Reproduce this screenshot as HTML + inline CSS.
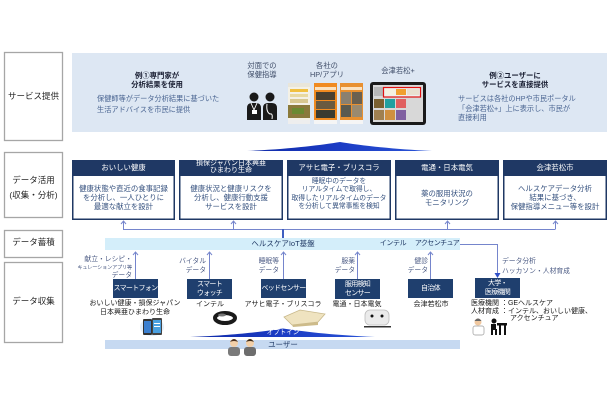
<!DOCTYPE html>
<html><head><meta charset="utf-8">
<style>
html,body{margin:0;padding:0;background:#fff;}
body{width:610px;height:400px;position:relative;overflow:hidden;font-family:"Liberation Sans","Noto Sans CJK JP",sans-serif;}
.t{position:absolute;white-space:nowrap;text-align:center;}
.l{text-align:left;}
.r{text-align:right;}
.lab{font-size:8.5px;color:#262626;}
.sv{font-size:7.2px;color:#4a6592;}
.svh{font-size:7.4px;color:#1a1f33;font-weight:bold;}
.cap{font-size:7.3px;color:#3f4d68;}
.hd{font-size:7.4px;color:#fff;}
.bd{font-size:7.4px;color:#34507e;}
.dv{font-size:7px;color:#fff;letter-spacing:-0.7px;}
.ar{font-size:6.8px;color:#4d5c85;}
.co{font-size:7px;color:#1a1a1a;}
.pf{font-size:7.5px;color:#1f3864;}
</style></head>
<body>
<svg width="610" height="400" style="position:absolute;left:0;top:0">
  <defs>
    <linearGradient id="wg" x1="0" x2="1" y1="0" y2="0">
      <stop offset="0" stop-color="#0f2aa8"/>
      <stop offset="0.5" stop-color="#1c3cc4"/>
      <stop offset="1" stop-color="#2a55d8"/>
    </linearGradient>
  </defs>
  <!-- left label boxes -->
  <rect x="4.5" y="52.5" width="58" height="88" fill="#fff" stroke="#a6a6a6" stroke-width="1.3"/>
  <rect x="4.5" y="152.5" width="58" height="65" fill="#fff" stroke="#a6a6a6" stroke-width="1.3"/>
  <rect x="4.5" y="230.5" width="58" height="27" fill="#fff" stroke="#a6a6a6" stroke-width="1.3"/>
  <rect x="4.5" y="262.5" width="58" height="80" fill="#fff" stroke="#a6a6a6" stroke-width="1.3"/>

  <!-- service panel -->
  <rect x="72" y="53" width="535" height="79" fill="#dde7f3"/>

  <!-- people icon (face-to-face guidance) -->
  <g fill="#1a1a1a">
    <circle cx="254" cy="97" r="4.5"/>
    <path d="M247 120 L247 108 Q247 103 252 103 L256 103 Q261 103 261 108 L261 120 Z"/>
    <circle cx="270" cy="97" r="4.5"/>
    <path d="M263 120 L263 108 Q263 103 268 103 L272 103 Q277 103 277 108 L277 120 Z"/>
  </g>
  <polyline points="251,103 254,110 257,103" fill="none" stroke="#fff" stroke-width="0.9"/>
  <rect x="252" y="110" width="5" height="4" fill="#fff"/>
  <path d="M267 104 Q266 112 270 114 Q273 113 272 119" fill="none" stroke="#fff" stroke-width="1"/>

  <!-- app screenshots -->
  <rect x="288" y="83" width="22" height="41" fill="#f4f1e6"/>
  <rect x="288" y="83" width="22" height="4" fill="#e9e6da"/>
  <rect x="290" y="89" width="18" height="3" fill="#f1c040"/>
  <rect x="290" y="94" width="18" height="3" fill="#e8d9a0"/>
  <rect x="290" y="99" width="18" height="4" fill="#d8c890"/>
  <rect x="288" y="105" width="22" height="13" fill="#8a7a3a"/>
  <rect x="292" y="108" width="12" height="6" fill="#6a8a30"/>
  <rect x="288" y="120" width="22" height="4" fill="#eee"/>

  <rect x="314" y="83" width="23" height="41" fill="#f08a20"/>
  <rect x="315" y="87" width="21" height="3" fill="#fbe2c0"/>
  <rect x="316" y="92" width="19" height="8" fill="#4a4030"/>
  <rect x="316" y="101" width="19" height="8" fill="#6a5a40"/>
  <rect x="316" y="110" width="19" height="8" fill="#3a3a30"/>
  <rect x="314" y="120" width="23" height="4" fill="#f5f5f5"/>

  <rect x="340" y="83" width="23" height="41" fill="#e89030"/>
  <rect x="341" y="87" width="21" height="3" fill="#fbe2c0"/>
  <rect x="341" y="92" width="10" height="12" fill="#8a8070"/>
  <rect x="352" y="92" width="10" height="12" fill="#6a6050"/>
  <rect x="341" y="105" width="10" height="12" fill="#5a5a50"/>
  <rect x="352" y="105" width="10" height="12" fill="#9a8a70"/>
  <rect x="340" y="120" width="23" height="4" fill="#f5f5f5"/>

  <!-- tablet -->
  <rect x="370" y="82" width="56" height="43" rx="3" fill="#1a1a1a"/>
  <rect x="373" y="85" width="50" height="37" fill="#d8d8d8"/>
  <rect x="374" y="87" width="9" height="9" fill="#b8b8b8"/>
  <rect x="383.5" y="87.5" width="37" height="9.5" fill="#eee" stroke="#e01010" stroke-width="1.2"/>
  <rect x="385" y="89" width="10" height="6" fill="#f5f0e0"/>
  <rect x="396" y="89" width="10" height="6" fill="#f0a030"/>
  <rect x="407" y="89" width="12" height="6" fill="#e8e0d0"/>
  <rect x="374" y="99" width="10" height="9" fill="#7a6030"/>
  <rect x="385" y="99" width="10" height="9" fill="#20a0a0"/>
  <rect x="396" y="99" width="10" height="9" fill="#e06060"/>
  <rect x="374" y="110" width="10" height="10" fill="#a08050"/>
  <rect x="385" y="110" width="10" height="10" fill="#d09040"/>
  <rect x="396" y="110" width="10" height="10" fill="#8060a0"/>

  <!-- top wedge -->
  <path d="M247 151 C290 149 322 145 340 142 C358 145 390 149 432 151 Z" fill="url(#wg)"/>

  <!-- data usage boxes -->
  <g stroke="#1f3864" stroke-width="1.5" fill="#fff">
    <rect x="72.75" y="160.75" width="101.5" height="58.5"/>
    <rect x="179.75" y="160.75" width="102.5" height="58.5"/>
    <rect x="287.75" y="160.75" width="102.5" height="58.5"/>
    <rect x="395.75" y="160.75" width="102.5" height="58.5"/>
    <rect x="503.75" y="160.75" width="102.5" height="58.5"/>
  </g>
  <g fill="#1f3864">
    <rect x="72" y="160" width="103" height="16"/>
    <rect x="179" y="160" width="104" height="16"/>
    <rect x="287" y="160" width="104" height="16"/>
    <rect x="395" y="160" width="104" height="16"/>
    <rect x="503" y="160" width="104" height="16"/>
  </g>

  <!-- connectors from platform to boxes -->
  <g stroke="#7585cc" stroke-width="1" fill="none">
    <line x1="123" y1="229.5" x2="555" y2="229.5"/>
    <line x1="123.5" y1="229.5" x2="123.5" y2="221"/>
    <line x1="233.5" y1="229.5" x2="233.5" y2="221"/>
    <line x1="447.5" y1="229.5" x2="447.5" y2="221"/>
    <line x1="555.5" y1="229.5" x2="555.5" y2="221"/>
    <polyline points="121,224 123.5,221 126,224"/>
    <polyline points="231,224 233.5,221 236,224"/>
    <polyline points="445,224 447.5,221 450,224"/>
    <polyline points="553,224 555.5,221 558,224"/>
  </g>
  <line x1="283" y1="229" x2="283" y2="238" stroke="#3f5fc0" stroke-width="2"/>

  <!-- platform bar -->
  <rect x="105" y="238" width="355" height="12" fill="#d4eefa"/>

  <!-- arrows from devices up to platform -->
  <g stroke="#7585cc" stroke-width="1" fill="none">
    <line x1="135.5" y1="279" x2="135.5" y2="252"/>
    <line x1="209.5" y1="279" x2="209.5" y2="252"/>
    <line x1="283.5" y1="279" x2="283.5" y2="252"/>
    <line x1="357.5" y1="279" x2="357.5" y2="252"/>
    <line x1="430.5" y1="279" x2="430.5" y2="252"/>
    <polyline points="133,255 135.5,252 138,255"/>
    <polyline points="207,255 209.5,252 212,255"/>
    <polyline points="281,255 283.5,252 286,255"/>
    <polyline points="355,255 357.5,252 360,255"/>
    <polyline points="428,255 430.5,252 433,255"/>
    <polyline points="460,244.5 497.5,244.5 497.5,274"/>
  </g>
  <path d="M494.5 273 L500.5 273 L497.5 278 Z" fill="#3050c8"/>

  <!-- device boxes -->
  <g fill="#1f3f6e">
    <rect x="113" y="279" width="45" height="19"/>
    <rect x="187" y="279" width="45" height="20"/>
    <rect x="261" y="279" width="45" height="19"/>
    <rect x="335" y="279" width="45" height="20"/>
    <rect x="408" y="279" width="45" height="19"/>
    <rect x="475" y="278" width="45" height="20"/>
  </g>

  <!-- smartphone image -->
  <ellipse cx="152" cy="327" rx="12" ry="9" fill="#e3effb"/>
  <rect x="143" y="319" width="9" height="16" rx="1" fill="#333"/>
  <rect x="144" y="321" width="7" height="12" fill="#3a7fd0"/>
  <rect x="152" y="318" width="10" height="17" rx="1" fill="#444"/>
  <rect x="153" y="320" width="8" height="13" fill="#4aa0e0"/>
  <rect x="154" y="323" width="6" height="1" fill="#fff"/>
  <rect x="154" y="326" width="6" height="1" fill="#fff"/>

  <!-- watch -->
  <ellipse cx="225" cy="318" rx="10" ry="5" fill="none" stroke="#1a1a1a" stroke-width="4"/>
  <ellipse cx="222" cy="315" rx="4" ry="1.5" fill="#777"/>

  <!-- bed -->
  <path d="M284 317 L300 310 L325 314 L318 322 L292 325 Z" fill="#efe3c0" stroke="#c8b88a" stroke-width="0.8"/>
  <path d="M292 325 L318 322 L318 325 L293 327 Z" fill="#cdbb8a"/>

  <!-- medication sensor -->
  <rect x="365" y="310" width="24" height="15" rx="5" fill="#ebebeb" stroke="#bdbdbd" stroke-width="0.8"/>
  <circle cx="372" cy="316" r="1.5" fill="#111"/>
  <circle cx="382" cy="316" r="1.5" fill="#111"/>
  <rect x="364" y="326" width="27" height="1.5" fill="#333"/>

  <!-- doctor and desk -->
  <circle cx="478" cy="322" r="3.5" fill="#f0c8a0"/>
  <path d="M474.5 321 Q478 316 481.5 321 Z" fill="#666"/>
  <rect x="473" y="326" width="11" height="9" rx="2" fill="#fff" stroke="#999" stroke-width="0.7"/>
  <circle cx="494" cy="321" r="2.5" fill="#111"/>
  <rect x="491" y="324" width="5" height="6" fill="#111"/>
  <rect x="491" y="329" width="2" height="6" fill="#111"/>
  <rect x="495" y="329" width="2" height="6" fill="#111"/>
  <rect x="497" y="323" width="10" height="2.5" fill="#111"/>
  <rect x="499" y="325" width="2" height="10" fill="#111"/>
  <rect x="504" y="325" width="2" height="10" fill="#111"/>

  <!-- opt-in wedge -->
  <path d="M190 337 C240 335 266 331 283 328.5 C300 331 330 335 375 337 Z" fill="url(#wg)"/>

  <!-- user bar -->
  <rect x="105" y="340" width="355" height="9" fill="#c6d9f1"/>

  <!-- user people -->
  <g>
    <rect x="228" y="347" width="12" height="9" rx="3" fill="#7a7a7a"/>
    <circle cx="234" cy="343" r="4" fill="#f2cfa8"/>
    <path d="M230 342 Q234 336 238 342 Q234 340 230 342 Z" fill="#4a3020"/>
    <rect x="244" y="347" width="12" height="9" rx="3" fill="#6d6d6d"/>
    <circle cx="250" cy="343" r="4" fill="#f2cfa8"/>
    <path d="M246 342 Q250 336 254 342 Q250 340 246 342 Z" fill="#3a2a1a"/>
  </g>
</svg>

<!-- left labels -->
<div class="t lab" style="left:4px;width:59px;top:91px;line-height:10px;">サービス提供</div>
<div class="t lab" style="left:2px;width:63px;top:173px;line-height:14.5px;">データ活用<br>(収集・分析)</div>
<div class="t lab" style="left:4px;width:59px;top:237px;line-height:10px;">データ蓄積</div>
<div class="t lab" style="left:4px;width:59px;top:296px;line-height:10px;">データ収集</div>

<!-- service panel text -->
<div class="t svh" style="left:97px;width:120px;top:70.5px;line-height:9px;">例①専門家が<br>分析結果を使用</div>
<div class="t sv l" style="left:97px;top:93px;line-height:11px;">保健師等がデータ分析結果に基づいた<br>生活アドバイスを市民に提供</div>
<div class="t cap" style="left:232px;width:60px;top:60.5px;line-height:9px;">対面での<br>保健指導</div>
<div class="t cap" style="left:297px;width:60px;top:60.5px;line-height:9px;">各社の<br>HP/アプリ</div>
<div class="t cap" style="left:368px;width:60px;top:65.5px;line-height:9px;">会津若松+</div>
<div class="t svh" style="left:455px;width:120px;top:70.5px;line-height:9px;">例②ユーザーに<br>サービスを直接提供</div>
<div class="t sv l" style="left:458px;top:94px;line-height:9.5px;">サービスは各社のHPや市民ポータル<br>「会津若松+」上に表示し、市民が<br>直接利用</div>

<!-- box headers -->
<div class="t hd" style="left:72px;width:103px;top:163px;line-height:10px;">おいしい健康</div>
<div class="t hd" style="left:179px;width:104px;top:159.5px;line-height:7.5px;font-size:7px;">損保ジャパン日本興亜<br>ひまわり生命</div>
<div class="t hd" style="left:287px;width:104px;top:163px;line-height:10px;">アサヒ電子・ブリスコラ</div>
<div class="t hd" style="left:395px;width:104px;top:163px;line-height:10px;">電通・日本電気</div>
<div class="t hd" style="left:503px;width:104px;top:163px;line-height:10px;">会津若松市</div>

<!-- box bodies -->
<div class="t bd" style="left:72px;width:103px;top:183.5px;line-height:9px;">健康状態や直近の食事記録<br>を分析し、一人ひとりに<br>最適な献立を設計</div>
<div class="t bd" style="left:179px;width:104px;top:183.5px;line-height:9px;">健康状況と健康リスクを<br>分析し、健康行動支援<br>サービスを設計</div>
<div class="t bd" style="left:287px;width:104px;top:178px;line-height:8.3px;font-size:6.8px;">睡眠中のデータを<br>リアルタイムで取得し、<br>取得したリアルタイムのデータ<br>を分析して異常事態を検知</div>
<div class="t bd" style="left:395px;width:104px;top:188.5px;line-height:9px;">薬の服用状況の<br>モニタリング</div>
<div class="t bd" style="left:503px;width:104px;top:183.5px;line-height:9px;">ヘルスケアデータ分析<br>結果に基づき、<br>保健指導メニュー等を設計</div>

<!-- platform text -->
<div class="t pf" style="left:223px;width:120px;top:239px;line-height:10px;">ヘルスケアIoT基盤</div>
<div class="t pf" style="left:373px;width:40px;top:239px;line-height:10px;font-size:7px;letter-spacing:-0.4px;">インテル</div>
<div class="t pf" style="left:407px;width:60px;top:239px;line-height:10px;font-size:7px;letter-spacing:-0.6px;">アクセンチュア</div>

<!-- arrow labels -->
<div class="t ar r" style="left:60px;width:72px;top:256px;line-height:8px;">献立・レシピ・<br><span style="font-size:5.2px;letter-spacing:-0.2px;">キュレーションアプリ等</span><br>データ</div>
<div class="t ar r" style="left:166px;width:40px;top:256.5px;line-height:9px;">バイタル<br>データ</div>
<div class="t ar r" style="left:240px;width:39px;top:256.5px;line-height:9px;">睡眠等<br>データ</div>
<div class="t ar r" style="left:316px;width:39px;top:256.5px;line-height:9px;">服薬<br>データ</div>
<div class="t ar r" style="left:389px;width:39px;top:256.5px;line-height:9px;">健診<br>データ</div>
<div class="t ar l" style="left:502px;top:257px;line-height:10px;">データ分析<br>ハッカソン・人材育成</div>

<!-- device labels -->
<div class="t dv" style="left:113px;width:45px;top:283.5px;line-height:10px;">スマートフォン</div>
<div class="t dv" style="left:187px;width:45px;top:280px;line-height:9px;">スマート<br>ウォッチ</div>
<div class="t dv" style="left:261px;width:45px;top:283.5px;line-height:10px;">ベッドセンサー</div>
<div class="t dv" style="left:335px;width:45px;top:280px;line-height:9px;">服用検知<br>センサー</div>
<div class="t dv" style="left:408px;width:45px;top:283.5px;line-height:10px;">自治体</div>
<div class="t dv" style="left:475px;width:45px;top:279px;line-height:9px;">大学・<br>医療機関</div>

<!-- company names -->
<div class="t co" style="left:85px;width:100px;top:299px;line-height:9px;">おいしい健康・損保ジャパン<br>日本興亜ひまわり生命</div>
<div class="t co" style="left:180px;width:60px;top:299.5px;line-height:9px;">インテル</div>
<div class="t co" style="left:233px;width:100px;top:299.5px;line-height:9px;">アサヒ電子・ブリスコラ</div>
<div class="t co" style="left:317px;width:80px;top:299.5px;line-height:9px;">電通・日本電気</div>
<div class="t co" style="left:396px;width:70px;top:299.5px;line-height:9px;">会津若松市</div>
<div class="t co l" style="left:471px;top:300px;line-height:7.5px;">医療機関 ：GEヘルスケア<br>人材育成 ：インテル、おいしい健康、<br><span style="padding-left:39px;">アクセンチュア</span></div>

<!-- opt-in / user -->
<div class="t" style="left:253px;width:60px;top:329px;line-height:8px;font-size:6.5px;color:#fff;">オプトイン</div>
<div class="t pf" style="left:253px;width:60px;top:340px;line-height:9px;font-size:7.5px;">ユーザー</div>
</body></html>
